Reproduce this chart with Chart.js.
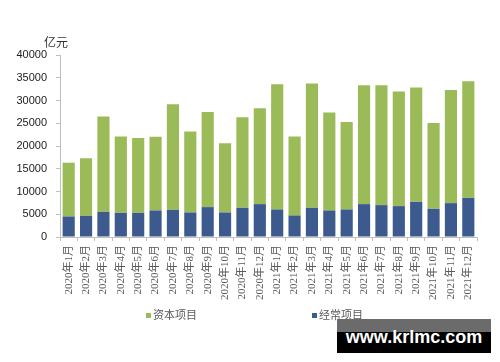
<!DOCTYPE html>
<html>
<head>
<meta charset="utf-8">
<script src="https://cdn.jsdelivr.net/npm/chart.js@4.4.1/dist/chart.umd.min.js"></script>
<style>
  html, body { margin: 0; padding: 0; background: #fff; }
  #wrap { position: relative; width: 500px; height: 362px; }
  #mark {
    position: absolute; left: 337px; top: 319px; width: 154px; height: 34px;
    background: linear-gradient(#6b6b6b 0, #6b6b6b 13px, #000 13px, #000 100%);
    color: #fff; font: bold 18px 'Liberation Sans', Arial, sans-serif;
    text-align: center; line-height: 36px;
  }
</style>
</head>
<body>
<div id="wrap">
  <canvas id="chart" width="500" height="362"></canvas>
  <div id="mark">www.krlmc.com</div>
</div>
<script>
const months = [
  '2020年1月', '2020年2月', '2020年3月', '2020年4月', '2020年5月', '2020年6月',
  '2020年7月', '2020年8月', '2020年9月', '2020年10月', '2020年11月', '2020年12月',
  '2021年1月', '2021年2月', '2021年3月', '2021年4月', '2021年5月', '2021年6月',
  '2021年7月', '2021年8月', '2021年9月', '2021年10月', '2021年11月', '2021年12月'
];
// 经常项目 (bottom, blue)
const currentAccount = [4510, 4660, 5540, 5320, 5320, 5830, 5980, 5390, 6570, 5390, 6420, 7230,
  6050, 4730, 6420, 5830, 6050, 7230, 7010, 6790, 7730, 6200, 7440, 8610];
// 资本项目 (top, green)
const capitalAccount = [11820, 12640, 20950, 16790, 16420, 16200, 23210, 17820, 20930, 15190, 19920, 21080,
  27520, 17380, 27300, 21540, 19200, 26120, 26340, 25180, 25110, 18830, 24880, 25610];
const yTicks = [0, 5000, 10000, 15000, 20000, 25000, 30000, 35000, 40000];
const unitLabel = '亿元';

const blue = '#3d5a8e';
const green = '#9bbb59';

// unit label and bottom legend
const extras = {
  id: 'extras',
  afterDraw(chart) {
    const ctx = chart.ctx;
    ctx.save();
    ctx.fillStyle = '#333';
    ctx.font = "12px 'Noto Sans CJK SC', sans-serif";
    ctx.textAlign = 'center';
    ctx.textBaseline = 'middle';
    ctx.fillText(unitLabel, 56, 42);

    const items = [
      { ds: chart.data.datasets[1], x: 146 },
      { ds: chart.data.datasets[0], x: 312 }
    ];
    ctx.font = "11px 'Liberation Serif', 'Noto Sans CJK SC', serif";
    ctx.textAlign = 'left';
    items.forEach((it) => {
      ctx.fillStyle = it.ds.backgroundColor;
      ctx.fillRect(it.x, 313, 5, 5);
      ctx.fillStyle = '#595959';
      ctx.fillText(it.ds.label, it.x + 7, 316);
    });
    ctx.restore();
  }
};

new Chart(document.getElementById('chart'), {
  type: 'bar',
  data: {
    labels: months,
    datasets: [
      { label: '经常项目', data: currentAccount, backgroundColor: blue, barPercentage: 0.7, categoryPercentage: 1 },
      { label: '资本项目', data: capitalAccount, backgroundColor: green, barPercentage: 0.7, categoryPercentage: 1 }
    ]
  },
  options: {
    responsive: false,
    animation: false,
    devicePixelRatio: 1,
    layout: { padding: { top: 55, right: 23, left: 0, bottom: 0 } },
    plugins: { legend: { display: false }, tooltip: { enabled: false } },
    scales: {
      x: {
        stacked: true,
        afterFit: (scale) => { scale.height = 125; },
        grid: { drawOnChartArea: false, drawTicks: true, tickLength: 4, color: '#bfbfbf' },
        border: { color: '#bfbfbf' },
        ticks: {
          autoSkip: false, maxRotation: 90, minRotation: 90, padding: 4,
          color: '#595959',
          font: { family: "'Liberation Serif', 'Noto Sans CJK SC', serif", size: 11 }
        }
      },
      y: {
        stacked: true,
        min: 0,
        max: 40000,
        afterFit: (scale) => { scale.width = 60; },
        afterBuildTicks: (scale) => { scale.ticks = yTicks.map((v) => ({ value: v })); },
        grid: { drawOnChartArea: false, drawTicks: true, tickLength: 4, color: '#bfbfbf' },
        border: { color: '#bfbfbf' },
        ticks: {
          padding: 9,
          color: '#222',
          font: { family: "'Liberation Sans', Arial, sans-serif", size: 11 },
          callback: (v) => String(v)
        }
      }
    }
  },
  plugins: [extras]
});
</script>
</body>
</html>
